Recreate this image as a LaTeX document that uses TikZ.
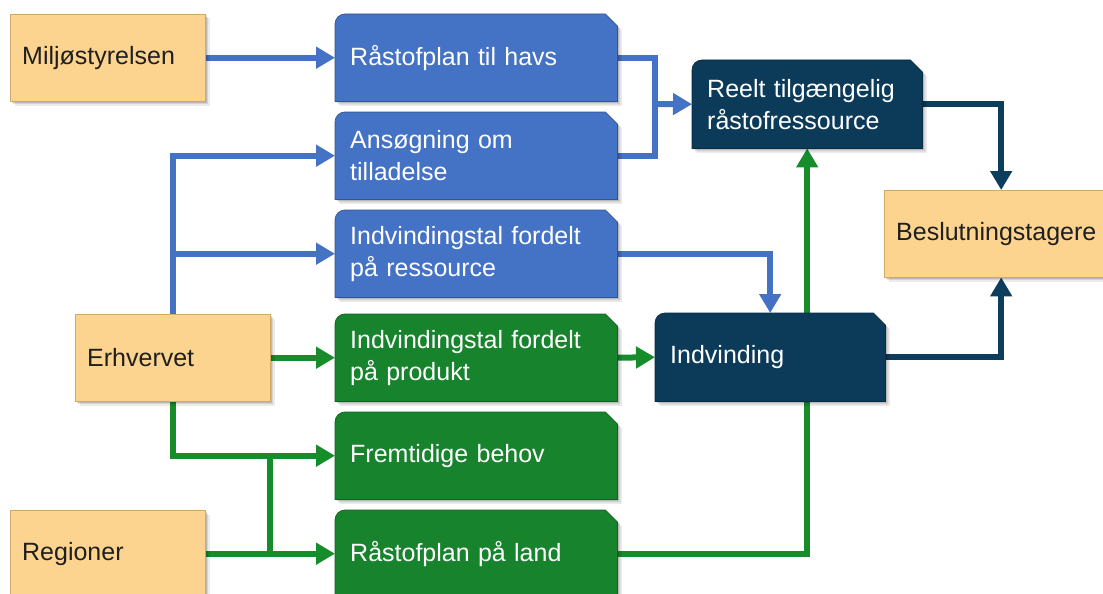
\documentclass[tikz,border=0pt]{standalone}
\usepackage{fontspec}
\setmainfont{Liberation Sans}
\usetikzlibrary{arrows.meta,calc}
\pgfdeclarelayer{bg}
\pgfdeclarelayer{conn}
\pgfdeclarelayer{boxes}
\pgfsetlayers{bg,conn,boxes,main}
\definecolor{ofill}{HTML}{FCD48F}
\definecolor{oline}{HTML}{D2AA68}
\definecolor{bfill}{HTML}{4472C4}
\definecolor{gfill}{HTML}{17832D}
\definecolor{nfill}{HTML}{0C3B5A}
\definecolor{bline}{HTML}{4472C4}
\definecolor{gline}{HTML}{168C2B}
\definecolor{nline}{HTML}{0C3D5C}
\newcommand\cutbox[2]{%
\begin{pgfonlayer}{boxes}
\foreach \s/\o in {4.5pt/0.08,3pt/0.10,1.5pt/0.12}{%
 \path ([shift={(\s,-\s)}]#1.south west) coordinate (SW) ([shift={(\s,-\s)}]#1.north east) coordinate (NE);
 \fill[black,opacity=\o] (SW) -- ($(SW|-NE)+(0pt,-10pt)$) arc[start angle=180,end angle=90,radius=10pt] -- ($(NE)+(-12pt,0pt)$) -- ($(NE)+(0pt,-12pt)$) -- (NE|-SW) -- cycle;}
\path (#1.south west) coordinate (SW) (#1.north east) coordinate (NE);
\fill[#2] (SW) -- ($(SW|-NE)+(0pt,-10pt)$) arc[start angle=180,end angle=90,radius=10pt] -- ($(NE)+(-12pt,0pt)$) -- ($(NE)+(0pt,-12pt)$) -- (NE|-SW) -- cycle;
\draw[#2!75!black,line width=0.7pt] (SW) -- ($(SW|-NE)+(0pt,-10pt)$) arc[start angle=180,end angle=90,radius=10pt] -- ($(NE)+(-12pt,0pt)$) -- ($(NE)+(0pt,-12pt)$) -- (NE|-SW) -- cycle;
\end{pgfonlayer}}
\newcommand\orangebox[1]{%
\begin{pgfonlayer}{boxes}
\foreach \s/\o in {4.5pt/0.08,3pt/0.10,1.5pt/0.12}{%
 \fill[black,opacity=\o] ([shift={(\s,-\s)}]#1.south west) rectangle ([shift={(\s,-\s)}]#1.north east);}
\fill[ofill] (#1.south west) rectangle (#1.north east);
\draw[oline,line width=0.8pt] (#1.south west) rectangle (#1.north east);
\end{pgfonlayer}}
\begin{document}
\begin{tikzpicture}[x=1pt,y=-1pt,
  lbl/.style={anchor=north west,inner ysep=0pt,minimum height=87pt,align=left,
    font=\fontsize{25}{32}\selectfont},
  wtxt/.style={lbl,text=white,inner xsep=15pt},
  otxt/.style={lbl,text=black!88,inner xsep=12pt},
  conn/.style={line width=6pt,line join=miter},
  arr/.style={-{Triangle[length=19pt,width=21pt]}},
  bl/.style={conn,bline},
  gl/.style={conn,gline},
  nl/.style={conn,nline}]
\useasboundingbox (0,0) rectangle (1103,594);
\clip (0,0) rectangle (1103,594);
\begin{pgfonlayer}{bg}
\fill[white] (0,0) rectangle (1103,594);
\end{pgfonlayer}
% orange boxes
\node[otxt,text width=171pt] (milj) at (10,14) {Miljøstyrelsen};
\node[otxt,text width=171pt] (erh) at (75,314) {Erhvervet};
\node[otxt,text width=171pt] (reg) at (10,510) {Regioner};
\node[otxt,text width=210pt] (besl) at (884,190) {Beslutningstagere};
% blue boxes
\node[wtxt,text width=252pt] (rtilh) at (335,14) {Råstofplan til havs};
\node[wtxt,text width=252pt] (ansog) at (335,112) {Ansøgning om\\tilladelse};
\node[wtxt,text width=252pt] (ires) at (335,210) {Indvindingstal fordelt\\på ressource};
% green boxes
\node[wtxt,text width=252pt] (iprod) at (335,314) {Indvindingstal fordelt\\på produkt};
\node[wtxt,text width=252pt] (fremt) at (335,412) {Fremtidige behov};
\node[wtxt,text width=252pt] (rpl) at (335,510) {Råstofplan på land};
% navy boxes
\node[wtxt,text width=200pt,minimum height=88pt] (reelt) at (692,60) {Reelt tilgængelig\\råstofressource};
\node[wtxt,text width=200pt,minimum height=88pt] (indv) at (655,313) {Indvinding};
\orangebox{milj}\orangebox{erh}\orangebox{reg}\orangebox{besl}
\cutbox{rtilh}{bfill}\cutbox{ansog}{bfill}\cutbox{ires}{bfill}
\cutbox{iprod}{gfill}\cutbox{fremt}{gfill}\cutbox{rpl}{gfill}
\cutbox{reelt}{nfill}\cutbox{indv}{nfill}
\coordinate (jb) at (655,104);
\coordinate (jg) at (270,0);
\begin{pgfonlayer}{conn}
% blue
\draw[bl,arr] (milj.east) -- (rtilh.west);
\draw[bl] (rtilh.east) -| (jb) |- (ansog.east);
\draw[bl,arr] (jb) -- (reelt.west);
\draw[bl,arr] (erh.north) |- (ansog.west);
\draw[bl,arr] (erh.north |- ires.west) -- (ires.west);
\draw[bl,arr] (ires.east) -| (indv.north);
% green
\draw[gl,arr] (erh.east) -- (iprod.west);
\draw[gl,arr] (iprod.east) -- (indv.west);
\draw[gl,arr] (erh.south) |- (fremt.west);
\draw[gl,arr] (reg.east) -- (rpl.west);
\draw[gl] (jg |- fremt.west) -- (jg |- rpl.west);
\draw[gl,arr] (rpl.east) -| (reelt.south);
% navy
\draw[nl,arr] (reelt.east) -| (besl.north);
\draw[nl,arr] (indv.east) -| (besl.south);
\end{pgfonlayer}
\end{tikzpicture}
\end{document}
